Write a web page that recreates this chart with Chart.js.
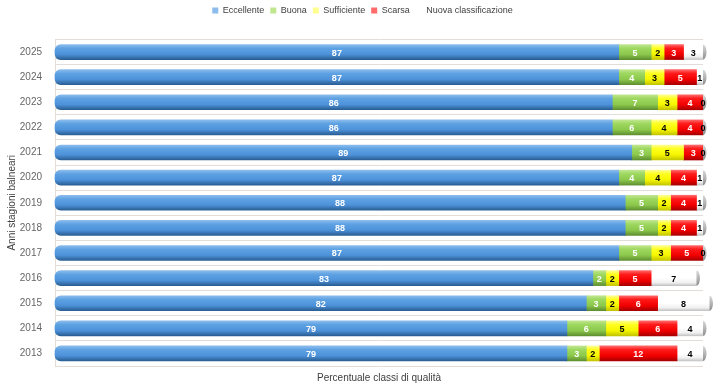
<!DOCTYPE html>
<html><head><meta charset="utf-8">
<script src="https://cdn.jsdelivr.net/npm/chart.js@4"></script>
<style>html,body{margin:0;padding:0;background:#fff}#wrap{width:726px;height:391px;position:relative}</style>
</head><body><div id="wrap"><canvas id="c"></canvas></div>
<script>
const years = ['2025','2024','2023','2022','2021','2020','2019','2018','2017','2016','2015','2014','2013'];
const seriesNames = ['Eccellente','Buona','Sufficiente','Scarsa','Nuova classificazione'];
const eccellente  = [87,87,86,86,89,87,88,88,87,83,82,79,79];
const buona       = [5,4,7,6,3,4,5,5,5,2,3,6,3];
const sufficiente = [2,3,3,4,5,4,2,2,3,2,2,5,2];
const scarsa      = [3,5,4,4,3,4,4,4,5,5,6,6,12];
const nuova       = [3,1,0,0,0,1,1,1,0,7,8,4,4];
const xTitle = 'Percentuale classi di qualità';
const yTitle = 'Anni stagioni balneari';

const FONT = '"Liberation Sans", "DejaVu Sans", sans-serif';
const BAR_H = 15;

const styles = [
  {solid:'#4f94dc', stops:[[0,'#8cbcec'],[0.25,'#5ea2e3'],[0.65,'#4d92da'],[1,'#2a5e93']], label:'#ffffff'},
  {solid:'#92d050', stops:[[0,'#c0e690'],[0.25,'#9ed860'],[0.65,'#8cc84c'],[1,'#5f8f30']], label:'#ffffff'},
  {solid:'#ffff00', stops:[[0,'#ffff90'],[0.25,'#ffff20'],[0.65,'#f5f500'],[1,'#c4c400']], label:'#000000'},
  {solid:'#ff0000', stops:[[0,'#ff6a6a'],[0.25,'#ff1a1a'],[0.65,'#f20000'],[1,'#a80000']], label:'#ffffff'},
  {solid:'#ffffff', stops:[[0,'#ffffff'],[0.5,'#ffffff'],[0.8,'#f0f0f0'],[1,'#c4c4c4']], label:'#000000'}
];

function grad(st){
  return (ctx) => {
    if (ctx.type !== 'data') return st.solid;
    const ys = ctx.chart.scales.y;
    if (!ys) return st.solid;
    const yc = ys.getPixelForValue(ctx.dataIndex);
    if (!isFinite(yc)) return st.solid;
    const g = ctx.chart.ctx.createLinearGradient(0, yc - BAR_H/2, 0, yc + BAR_H/2);
    st.stops.forEach(s => g.addColorStop(s[0], s[1]));
    return g;
  };
}

const seriesData = [eccellente, buona, sufficiente, scarsa, nuova];
const datasets = seriesData.map((d, i) => ({
  label: seriesNames[i],
  data: d,
  backgroundColor: grad(styles[i]),
  borderWidth: 0,
  borderColor: 'rgba(0,0,0,0)',
  barThickness: BAR_H,
  borderSkipped: false,
  borderRadius: i === 0 ? {topLeft: 6, bottomLeft: 6, topRight: 0, bottomRight: 0} : 0,
  clip: false
}));

const legendGap = {
  id: 'legendGap',
  beforeInit(chart) {
    const lg = chart.legend;
    if (!lg) return;
    const f = lg.fit;
    lg.fit = function() { f.call(this); this.height += 14.5; };
  },
  afterLayout(chart) {
    const lg = chart.legend;
    if (!lg) return;
    lg.left += 11; lg.right += 11;
  }
};

const decor = {
  id: 'decor',
  afterDatasetsDraw(chart) {
    const c = chart.ctx;
    const n = chart.data.datasets.length;
    const last = chart.getDatasetMeta(n - 1);
    c.save();
    last.data.forEach((el) => {
      const x = el.x, y = el.y;
      const g = c.createLinearGradient(x, y - BAR_H/2, x, y + BAR_H/2);
      g.addColorStop(0, '#d8d8d8'); g.addColorStop(0.5, '#b5b5b5'); g.addColorStop(1, '#8c8c8c');
      c.fillStyle = g;
      c.beginPath();
      c.ellipse(x, y, 3.5, BAR_H/2, 0, -Math.PI/2, Math.PI/2);
      c.closePath();
      c.fill();
    });
    c.font = 'bold 9px ' + FONT;
    c.textAlign = 'center';
    c.textBaseline = 'middle';
    chart.data.datasets.forEach((ds, di) => {
      const meta = chart.getDatasetMeta(di);
      meta.data.forEach((el, i) => {
        const v = ds.data[i];
        const x = (el.x + el.base) / 2;
        c.fillStyle = styles[di].label;
        c.fillText(String(v), x, el.y + 1);
      });
    });
    c.restore();
  }
};

new Chart(document.getElementById('c'), {
  type: 'bar',
  data: { labels: years, datasets },
  options: {
    indexAxis: 'y',
    responsive: true,
    maintainAspectRatio: false,
    animation: false,
    layout: { padding: { left: 0, right: 23, top: 0, bottom: 4 } },
    plugins: {
      legend: {
        position: 'top',
        labels: {
          boxWidth: 6, boxHeight: 6, padding: 6,
          color: '#404040',
          font: { family: FONT, size: 9 }
        }
      },
      tooltip: { enabled: false }
    },
    scales: {
      x: {
        stacked: true, min: 0, max: 100,
        ticks: { display: false },
        grid: { display: false, drawTicks: false },
        border: { display: false },
        title: { display: true, text: xTitle, color: '#404040', font: { family: FONT, size: 10 }, padding: { top: 6, bottom: 3 } }
      },
      y: {
        stacked: true,
        afterFit(scale) { scale.width = 55; },
        ticks: { color: '#666666', padding: 13, font: { family: FONT, size: 10 } },
        grid: { color: '#e2ddd8', drawTicks: false, offset: true },
        border: { display: true, color: '#e2ddd8' },
        title: { display: true, text: yTitle, color: '#404040', font: { family: FONT, size: 10 }, padding: { top: 6, bottom: 0 } }
      }
    }
  },
  plugins: [legendGap, decor]
});
</script>
</body></html>
